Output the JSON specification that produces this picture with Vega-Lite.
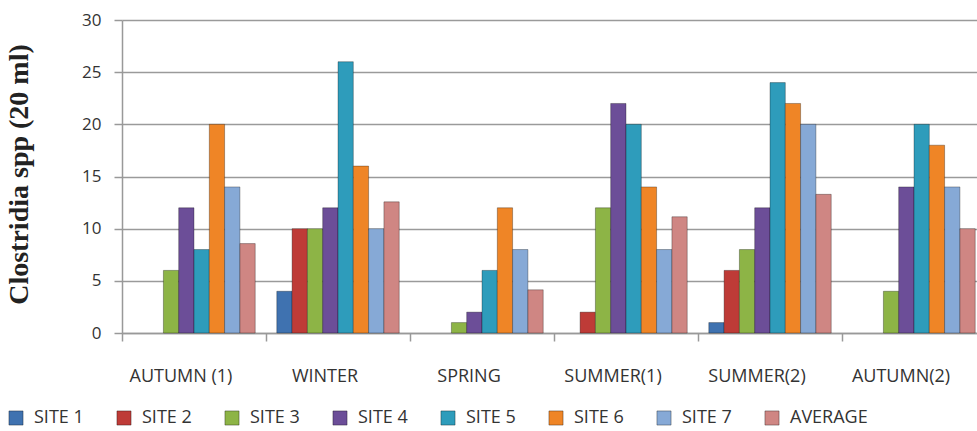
{
  "$schema": "https://vega.github.io/schema/vega-lite/v6.json",
  "autosize": {"type": "none"},
  "padding": {"left": 122, "top": 20, "right": 0, "bottom": 98},
  "width": 864,
  "height": 313,
  "background": "white",
  "config": {
    "font": "Open Sans",
    "view": {"stroke": null}
  },
  "data": {
    "values": [
      {"season": "AUTUMN (1)", "site": "SITE 3", "count": 6},
      {"season": "AUTUMN (1)", "site": "SITE 4", "count": 12},
      {"season": "AUTUMN (1)", "site": "SITE 5", "count": 8},
      {"season": "AUTUMN (1)", "site": "SITE 6", "count": 20},
      {"season": "AUTUMN (1)", "site": "SITE 7", "count": 14},
      {"season": "AUTUMN (1)", "site": "AVERAGE", "count": 8.57},
      {"season": "WINTER", "site": "SITE 1", "count": 4},
      {"season": "WINTER", "site": "SITE 2", "count": 10},
      {"season": "WINTER", "site": "SITE 3", "count": 10},
      {"season": "WINTER", "site": "SITE 4", "count": 12},
      {"season": "WINTER", "site": "SITE 5", "count": 26},
      {"season": "WINTER", "site": "SITE 6", "count": 16},
      {"season": "WINTER", "site": "SITE 7", "count": 10},
      {"season": "WINTER", "site": "AVERAGE", "count": 12.57},
      {"season": "SPRING", "site": "SITE 3", "count": 1},
      {"season": "SPRING", "site": "SITE 4", "count": 2},
      {"season": "SPRING", "site": "SITE 5", "count": 6},
      {"season": "SPRING", "site": "SITE 6", "count": 12},
      {"season": "SPRING", "site": "SITE 7", "count": 8},
      {"season": "SPRING", "site": "AVERAGE", "count": 4.14},
      {"season": "SUMMER(1)", "site": "SITE 2", "count": 2},
      {"season": "SUMMER(1)", "site": "SITE 3", "count": 12},
      {"season": "SUMMER(1)", "site": "SITE 4", "count": 22},
      {"season": "SUMMER(1)", "site": "SITE 5", "count": 20},
      {"season": "SUMMER(1)", "site": "SITE 6", "count": 14},
      {"season": "SUMMER(1)", "site": "SITE 7", "count": 8},
      {"season": "SUMMER(1)", "site": "AVERAGE", "count": 11.14},
      {"season": "SUMMER(2)", "site": "SITE 1", "count": 1},
      {"season": "SUMMER(2)", "site": "SITE 2", "count": 6},
      {"season": "SUMMER(2)", "site": "SITE 3", "count": 8},
      {"season": "SUMMER(2)", "site": "SITE 4", "count": 12},
      {"season": "SUMMER(2)", "site": "SITE 5", "count": 24},
      {"season": "SUMMER(2)", "site": "SITE 6", "count": 22},
      {"season": "SUMMER(2)", "site": "SITE 7", "count": 20},
      {"season": "SUMMER(2)", "site": "AVERAGE", "count": 13.29},
      {"season": "AUTUMN(2)", "site": "SITE 3", "count": 4},
      {"season": "AUTUMN(2)", "site": "SITE 4", "count": 14},
      {"season": "AUTUMN(2)", "site": "SITE 5", "count": 20},
      {"season": "AUTUMN(2)", "site": "SITE 6", "count": 18},
      {"season": "AUTUMN(2)", "site": "SITE 7", "count": 14},
      {"season": "AUTUMN(2)", "site": "AVERAGE", "count": 10}
    ]
  },
  "mark": {"type": "bar", "stroke": "#000000", "strokeOpacity": 0.3, "strokeWidth": 1},
  "encoding": {
    "x": {
      "field": "season",
      "type": "nominal",
      "sort": ["AUTUMN (1)", "WINTER", "SPRING", "SUMMER(1)", "SUMMER(2)", "AUTUMN(2)"],
      "scale": {"paddingInner": 0, "paddingOuter": 0},
      "axis": {
        "title": null,
        "bandPosition": 0,
        "labelAngle": 0,
        "labelOffset": -13,
        "labelAlign": "center",
        "labelBaseline": "top",
        "labelPadding": 26,
        "labelFontSize": 18,
        "labelColor": "#333333",
        "tickSize": 8,
        "tickColor": "#999999",
        "tickWidth": 1.5,
        "domainColor": "#999999",
        "domainWidth": 1.5,
        "grid": false
      }
    },
    "xOffset": {
      "field": "site",
      "type": "nominal",
      "scale": {
        "domain": ["SITE 1", "SITE 2", "SITE 3", "SITE 4", "SITE 5", "SITE 6", "SITE 7", "AVERAGE"],
        "paddingInner": 0,
        "paddingOuter": 0.705
      }
    },
    "y": {
      "field": "count",
      "type": "quantitative",
      "scale": {"domain": [0, 30], "nice": false},
      "axis": {
        "title": "Clostridia spp  (20 ml)",
        "titleFont": "Liberation Serif",
        "titleFontWeight": "bold",
        "titleFontSize": 28,
        "titleColor": "#222222",
        "titleX": -95,
        "titleY": 154,
        "titleAngle": -90,
        "titleAlign": "center",
        "titleBaseline": "alphabetic",
        "values": [0, 5, 10, 15, 20, 25, 30],
        "labelFontSize": 17,
        "labelColor": "#333333",
        "labelPadding": 13,
        "tickSize": 8,
        "tickColor": "#999999",
        "tickWidth": 1.5,
        "domainColor": "#999999",
        "domainWidth": 1.5,
        "grid": true,
        "gridColor": "#9a9a9a",
        "gridWidth": 1.6
      }
    },
    "color": {
      "field": "site",
      "type": "nominal",
      "scale": {
        "domain": ["SITE 1", "SITE 2", "SITE 3", "SITE 4", "SITE 5", "SITE 6", "SITE 7", "AVERAGE"],
        "range": ["#3f72b0", "#be3b37", "#8db446", "#6c4e98", "#2e9cbb", "#ef8526", "#86a9d6", "#cf8683"]
      },
      "legend": {
        "title": null,
        "orient": "none",
        "direction": "horizontal",
        "columns": 8,
        "gridAlign": "none",
        "columnPadding": 30,
        "legendX": -115,
        "legendY": 389,
        "symbolType": "square",
        "symbolSize": 200,
        "symbolStrokeColor": "#00000055",
        "symbolStrokeWidth": 1,
        "labelFontSize": 18,
        "labelColor": "#333333",
        "labelOffset": 9,
        "padding": 0
      }
    }
  }
}
